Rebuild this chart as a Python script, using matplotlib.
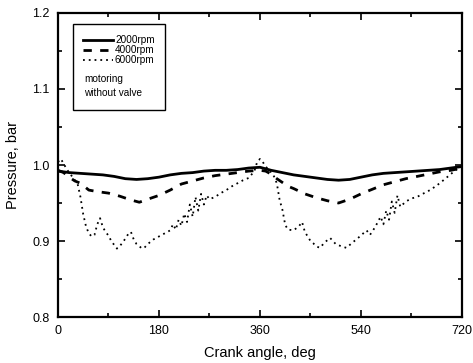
import matplotlib
matplotlib.use("Agg")
import matplotlib.pyplot as plt
from matplotlib.ticker import MultipleLocator
from matplotlib.patches import Rectangle

plt.rcParams['font.family'] = ['Liberation Sans', 'DejaVu Sans']

# 2000 rpm
ang_2000 = [0, 20, 40, 60, 80, 100, 120, 140, 160, 180, 200, 220, 240, 260, 280, 300, 320, 340,
            360, 380, 400, 420, 440, 460, 480, 500, 520, 540, 560, 580, 600, 620, 640, 660, 680, 700, 720]
p_2000 = [0.992, 0.990, 0.989, 0.988, 0.987, 0.985, 0.982, 0.981, 0.982, 0.984, 0.987, 0.989, 0.990,
          0.992, 0.993, 0.993, 0.994, 0.996, 0.997, 0.993, 0.990, 0.987, 0.985, 0.983, 0.981, 0.980,
          0.981, 0.984, 0.987, 0.989, 0.990, 0.991, 0.992, 0.993, 0.994, 0.996, 0.998]

# 4000 rpm
ang_4000 = [0, 10, 20, 30, 40, 55, 70, 90, 110, 130, 145, 160, 180, 200, 220, 240, 260, 280, 300,
            320, 340, 360, 370, 380, 390, 400, 410, 420, 440, 460, 480, 500, 520, 540, 560, 580, 600,
            620, 640, 660, 680, 700, 720]
p_4000 = [0.993, 0.990, 0.984, 0.979, 0.976, 0.967, 0.965, 0.963, 0.959, 0.954, 0.951, 0.955, 0.960,
          0.967, 0.975, 0.979, 0.983, 0.986, 0.988, 0.990, 0.992, 0.993, 0.992, 0.988, 0.982, 0.977,
          0.972, 0.969, 0.962, 0.957, 0.953, 0.950, 0.955, 0.962, 0.968, 0.974, 0.978, 0.982, 0.985,
          0.988, 0.991, 0.993, 0.996]

# 6000 rpm
ang_6000 = [0, 5, 10, 15, 20, 25, 30, 35, 40, 45, 50, 55, 60, 65, 70, 75, 80, 85, 90, 95, 100, 105,
            110, 115, 120, 125, 130, 135, 140, 145, 150, 155, 160, 170, 180, 190, 200, 205, 210, 215,
            220, 225, 230, 235, 240, 245, 250, 255, 260, 265, 270, 280, 290, 300, 310, 320, 330, 340,
            350, 355, 360, 365, 370, 378, 385, 390, 395, 400, 405, 410, 420, 430, 435, 440, 450, 455,
            460, 467, 475, 485, 495, 505, 514, 525, 538, 550, 556, 565, 570, 575, 580, 585, 590, 595,
            600, 605, 610, 620, 630, 640, 650, 663, 675, 687, 700, 710, 720]
p_6000 = [1.004, 1.008, 1.002, 0.995, 0.990, 0.985, 0.980, 0.975, 0.958, 0.935, 0.919, 0.910, 0.906,
          0.908, 0.922, 0.930, 0.918, 0.912, 0.907, 0.900, 0.895, 0.890, 0.893, 0.898, 0.903, 0.909,
          0.912, 0.902, 0.896, 0.893, 0.890, 0.892, 0.896, 0.902, 0.906, 0.910, 0.914, 0.922, 0.915,
          0.928, 0.920, 0.936, 0.925, 0.948, 0.932, 0.958, 0.940, 0.962, 0.948, 0.960, 0.955, 0.958,
          0.963, 0.967, 0.972, 0.976, 0.980, 0.983, 0.992, 1.004, 1.008, 1.004, 0.998, 0.992, 0.985,
          0.976, 0.954, 0.941, 0.921, 0.915, 0.914, 0.920, 0.925, 0.912, 0.900, 0.897, 0.893, 0.891,
          0.898, 0.904, 0.896, 0.893, 0.891, 0.898, 0.906, 0.914, 0.908, 0.918, 0.925, 0.932, 0.922,
          0.940, 0.928, 0.952, 0.937, 0.960, 0.945, 0.952, 0.956, 0.958, 0.962, 0.967, 0.973, 0.980,
          0.988, 0.994, 0.998]

x_ticks = [0, 180, 360, 540, 720]
y_ticks = [0.8, 0.9, 1.0, 1.1, 1.2]
note_text = 'motoring\nwithout valve'

fig = plt.figure(figsize=(4.73, 3.63), dpi=100)
ax = fig.add_axes([0.1226, 0.1267, 0.8541, 0.8375])

ax.plot(ang_2000, p_2000, color='black', lw=2.0, ls='-', label='2000rpm')
ax.plot(ang_4000, p_4000, color='black', lw=2.0, ls=(0, (3, 3)), label='4000rpm')
ax.plot(ang_6000, p_6000, color='black', lw=1.3, ls=(0, (1, 2.2)), label='6000rpm')

ax.set_xlim(0, 720)
ax.set_ylim(0.8, 1.2)
ax.set_xticks(x_ticks)
ax.set_yticks(y_ticks)
ax.set_xticklabels([str(v) for v in x_ticks])
ax.set_yticklabels(['0.8', '0.9', '1.0', '1.1', '1.2'])
ax.xaxis.set_minor_locator(MultipleLocator(90))
ax.yaxis.set_minor_locator(MultipleLocator(0.05))
ax.tick_params(which='both', direction='in', top=True, right=True, labelsize=9, width=1.2)
ax.tick_params(which='major', length=5, pad=6)
ax.tick_params(which='minor', length=3)
for s in ax.spines.values():
    s.set_linewidth(1.6)

ax.set_xlabel('Crank angle, deg', fontsize=10.5, labelpad=6)
ax.set_ylabel('Pressure, bar', fontsize=10.5, labelpad=9)

# legend frame
ax.add_patch(Rectangle((0.0371, 0.6809), 0.2278, 0.2829, transform=ax.transAxes,
                       fill=True, facecolor='white', edgecolor='black', lw=1.0, zorder=4))
leg = ax.legend(loc='upper left', bbox_to_anchor=(0.0619, 0.926), borderaxespad=0.0,
                fontsize=7.2, frameon=False, handlelength=3.0, handleheight=0.5,
                handletextpad=0.2, borderpad=0.0, labelspacing=-0.03)
leg.set_zorder(5)
ax.text(0.0644, 0.800, note_text, transform=ax.transAxes, fontsize=7.2, va='top', ha='left',
        linespacing=1.55, zorder=5)

fig.savefig('out.png', dpi=100)
